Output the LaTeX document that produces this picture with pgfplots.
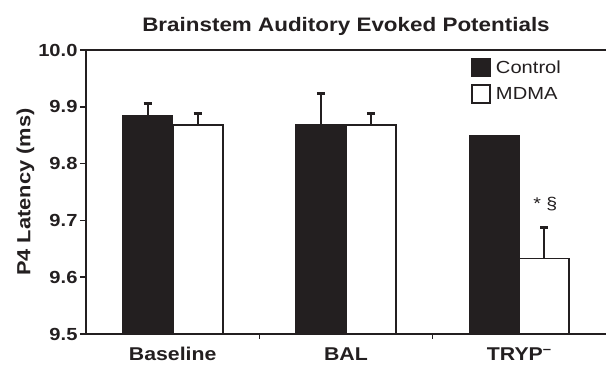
\documentclass[border=0pt]{standalone}
\usepackage{fontspec}
\setmainfont[FakeStretch=1.15]{Liberation Sans}
\usepackage{pgfplots}
\pgfplotsset{compat=1.18}
\definecolor{barblack}{HTML}{231F20}
\begin{document}
\begin{tikzpicture}
\useasboundingbox (-86pt,-37pt) rectangle (520pt,334pt);
\begin{axis}[
  at={(0pt,0pt)}, anchor=south west,
  scale only axis, width=520pt, height=284pt,
  xmin=-0.5, xmax=2.5, ymin=9.5, ymax=10.0,
  axis lines*=left,
  axis line style={line width=1.6pt, color=barblack},
  ybar=0pt, bar width=50pt,
  xtick={0,1,2},
  xticklabels={Baseline, BAL, {TRYP\textsuperscript{\textbf{--}}}},
  major x tick style={draw=none},
  minor xtick={0.5,1.5},
  minor tick length=5pt,
  minor x tick style={line width=1.6pt, color=barblack},
  ytick={9.5,9.6,9.7,9.8,9.9,10.0},
  yticklabel style={/pgf/number format/fixed, /pgf/number format/fixed zerofill, /pgf/number format/precision=1},
  /pgf/number format/assume math mode=true,
  tick align=outside,
  major tick length=6pt,
  y tick style={line width=1.6pt, color=barblack},
  ticklabel style={font=\fontsize{18.5}{21}\selectfont\bfseries, text=barblack},
  y tick label style={font=\fontsize{17.5}{20}\selectfont\bfseries, xshift=1pt},
  x tick label style={yshift=-4pt},
  ylabel={P4 Latency (ms)},
  ylabel style={font=\fontsize{19}{22}\selectfont\bfseries, text=barblack, yshift=-3pt},
  title={Brainstem Auditory Evoked Potentials},
  title style={font=\fontsize{19.5}{22}\selectfont\bfseries, text=barblack, yshift=5pt},
  error bars/y dir=plus, error bars/y explicit,
  error bars/error bar style={line width=2.2pt, color=barblack},
  error bars/error mark options={rotate=90, line width=3pt, mark size=4pt, color=barblack},
  legend style={draw=none, fill=none, at={(0.735,0.98)}, anchor=north west,
    font=\fontsize{17.5}{20}\selectfont, text=barblack, row sep=7pt},
  legend image code/.code={\draw[#1, line width=1.6pt] (0pt,-9pt) rectangle (18pt,9pt);},
  legend cell align=left,
  clip=false,
]
\addplot[fill=barblack, draw=barblack, line width=1pt, bar shift=-25pt] coordinates {
  (0,9.884) +- (0,0.022)
  (1,9.868) +- (0,0.055)
};
\addlegendentry{\hspace{3pt}Control}
\addplot[fill=white, draw=barblack, line width=1.8pt, bar shift=25pt] coordinates {
  (0,9.868) +- (0,0.020)
  (1,9.868) +- (0,0.020)
  (2,9.633) +- (0,0.055)
};
\addlegendentry{\hspace{3pt}MDMA}
\addplot[fill=barblack, draw=barblack, line width=1pt, bar shift=-25pt, forget plot, error bars/y dir=none] coordinates {
  (2,9.850)
};
\draw[line width=1.6pt, color=barblack] (rel axis cs:0,1) -- (rel axis cs:1,1);
\node[font=\fontsize{17}{20}\selectfont, text=barblack] at (axis cs:2.15,9.728) {* \S};
\end{axis}
\end{tikzpicture}
\end{document}
